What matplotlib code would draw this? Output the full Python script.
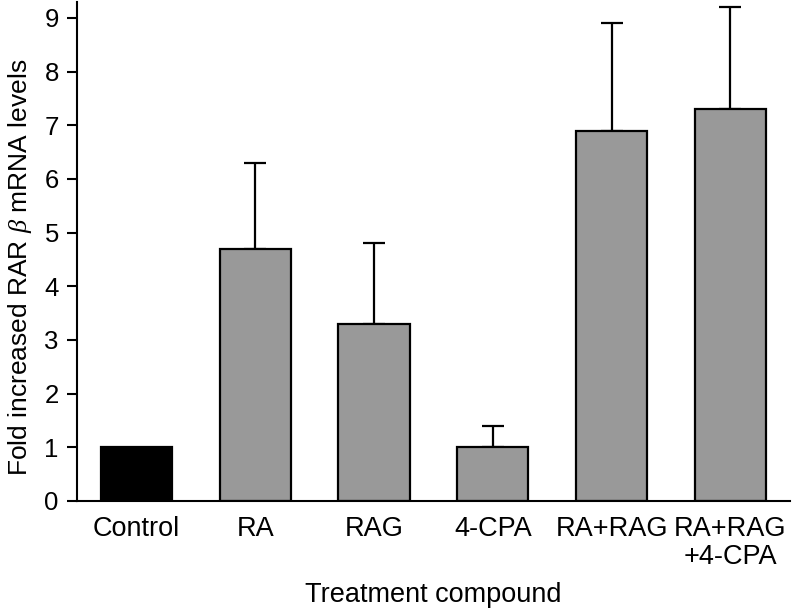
import matplotlib
matplotlib.use("Agg")
import matplotlib.pyplot as plt

plt.rcParams['font.family'] = ['Liberation Sans', 'DejaVu Sans']
plt.rcParams['mathtext.fontset'] = 'custom'
plt.rcParams['mathtext.it'] = 'Liberation Serif:italic'

# data
categories = ["Control", "RA", "RAG", "4-CPA", "RA+RAG", "RA+RAG\n+4-CPA"]
fold_change = [1.0, 4.7, 3.3, 1.0, 6.9, 7.3]
upper_error = [0.0, 1.6, 1.5, 0.4, 2.0, 1.9]
bar_colors = ["black", "#999999", "#999999", "#999999", "#999999", "#999999"]

fig = plt.figure(figsize=(7.93, 6.08), dpi=100)
ax = fig.add_axes([0.097, 0.176, 0.899, 0.821])

x = range(len(categories))
ax.bar(x, fold_change, width=0.6, color=bar_colors, edgecolor="black", linewidth=1.6, zorder=2)

# only upward error bars, no bar for control
err_x = [i for i in x if upper_error[i] > 0]
err_y = [fold_change[i] for i in err_x]
err_up = [upper_error[i] for i in err_x]
ax.errorbar(err_x, err_y, yerr=[[0] * len(err_x), err_up], fmt="none",
            ecolor="black", elinewidth=1.6, capsize=8, capthick=1.6, zorder=1)

ax.set_xlim(-0.5, 5.5)
ax.set_ylim(0, 9.3)
ax.set_yticks(range(10))
ax.set_xticks(list(x))
ax.set_xticklabels(categories, fontsize=19.5, linespacing=1.1)
ax.tick_params(axis="y", labelsize=18.5, length=7, width=1.5, direction="out", pad=6)
ax.tick_params(axis="x", length=0, pad=11)

for side in ["top", "right"]:
    ax.spines[side].set_visible(False)
ax.spines["left"].set_linewidth(1.5)
ax.spines["bottom"].set_linewidth(1.5)

ax.set_ylabel(r"Fold increased RAR $\it{\beta}$ mRNA levels", fontsize=19)
ax.yaxis.set_label_coords(-0.08, 0.468)
ax.yaxis.label.set_va("center")

ax.set_xlabel("Treatment compound", fontsize=19.5)
ax.xaxis.set_label_coords(0.5, -0.2024)
ax.xaxis.label.set_va("baseline")

fig.savefig("out.png", dpi=100)
